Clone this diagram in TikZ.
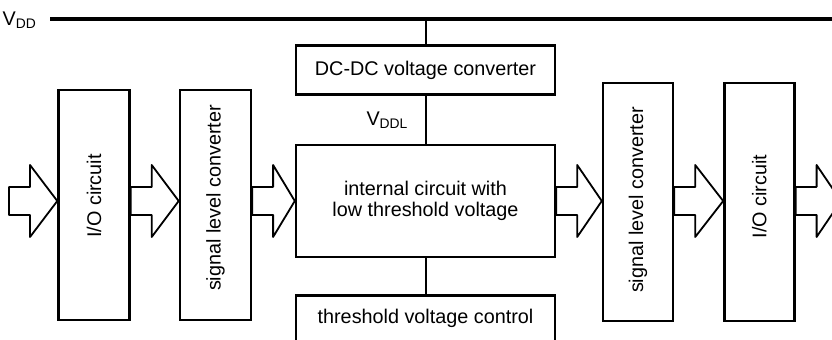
\documentclass[tikz,border=0pt]{standalone}
\usepackage{fontspec}
\setmainfont{Liberation Sans}
\usepackage{graphicx}
\usetikzlibrary{positioning,calc}

% hollow block arrow from #1 to #2 at the height of (flow)
\newcommand{\hollowarrow}[2]{%
  \path (#1 |- flow) coordinate (ha) (#2 |- flow) coordinate (hb);
  \draw[blockarrow] ($(ha)+(0,-14)$) -- ($(ha)+(21,-14)$) -- ($(ha)+(21,-36)$)
    -- (hb) -- ($(ha)+(21,36)$) -- ($(ha)+(21,14)$) -- ($(ha)+(0,14)$) -- cycle;
}
% upright text turned a quarter, lifted by #1
\newcommand{\uptext}[2]{\rotatebox{90}{\hspace{#1}#2}}

\begin{document}
\begin{tikzpicture}[
  x=0.5pt, y=-0.5pt,
  font=\fontsize{9.9pt}{10.8pt}\selectfont,
  box/.style={draw=black, line width=1.2pt, inner sep=0pt, align=center},
  vbox/.style={box, minimum width=35.5pt, minimum height=115pt},
  tallbox/.style={box, minimum width=35pt, minimum height=119pt},
  widebox/.style={box, minimum width=129.5pt},
  blockarrow/.style={draw=black, line width=0.9pt, line join=round},
  wire/.style={draw=black, line width=1pt},
  rail/.style={draw=black, line width=2pt}
]
\clip (0,0) rectangle (832,340);

% ========== Supply rail ==========
\coordinate (vddL) at (50,19);
\coordinate (vddR) at (840,19);
\coordinate (flow) at (0,201);
\node[anchor=east] (vdd) at (44,20) {V\textsubscript{DD}};

% ========== LEFT: input side ==========
\node[vbox] (io1) at (94,205) {\uptext{9pt}{I/O circuit}};
\node[vbox, right=24pt of io1] (slc1) {\uptext{7pt}{signal level converter}};

% ========== CENTER: core ==========
\node[widebox, minimum height=56pt] (core) at (425.5,201)
  {internal circuit with\\low threshold voltage};
\node[widebox, minimum height=24.5pt, above=24pt of core] (dcdc) {DC-DC voltage converter};
\node[widebox, minimum height=23pt, below=18pt of core] (vth) {threshold voltage control};
\node[anchor=east, xshift=-5pt] (vddl) at ($(dcdc.south)!0.5!(core.north)$) {V\textsubscript{DDL}};

% ========== RIGHT: output side ==========
\node[tallbox] (slc2) at (638,202) {\uptext{2pt}{signal level converter}};
\node[tallbox, right=24.5pt of slc2] (io2) {\uptext{5.5pt}{I/O circuit}};

\coordinate (inL) at (9,201);
\coordinate (outR) at (841,201);

% ----- wires -----
\draw[rail] (vddL) -- (vddR);
\draw[wire] (dcdc.north) -- (dcdc.north |- vddL);
\draw[wire] (dcdc.south) -- (core.north);
\draw[wire] (core.south) -- (vth.north);

% ----- signal flow -----
\hollowarrow{inL}{io1.west}
\hollowarrow{io1.east}{slc1.west}
\hollowarrow{slc1.east}{core.west}
\hollowarrow{core.east}{slc2.west}
\hollowarrow{slc2.east}{io2.west}
\hollowarrow{io2.east}{outR}

\end{tikzpicture}
\end{document}
